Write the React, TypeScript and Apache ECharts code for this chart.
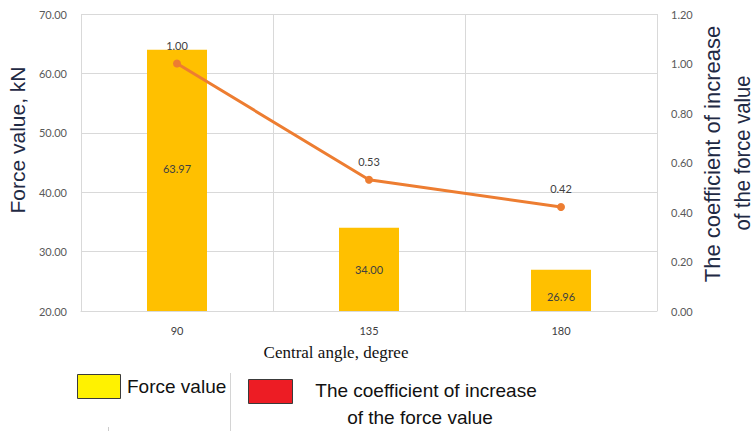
import React, { useEffect, useRef } from "react";
import * as echarts from "echarts";

const categories = ["90", "135", "180"];
const forceValues = [63.97, 34.0, 26.96];
const coefficientValues = [1.0, 0.53, 0.42];
const barLabelOffsets = [[0, -12], [0, 0], [0, 6]];

const SANS = "'Liberation Sans', Arial, sans-serif";
const TICK_FONT = "Lato, 'Open Sans', sans-serif";

export default function App() {
  const ref = useRef<HTMLDivElement>(null);
  useEffect(() => {
    if (!ref.current) return;
    const chart = echarts.init(ref.current, undefined, { renderer: "svg" });
    const gridColor = "#D9D9D9";
    const option: any = {
      animation: false,
      backgroundColor: "#ffffff",
      grid: { left: 81, right: 96, top: 14, bottom: 120, containLabel: false },
      xAxis: {
        type: "category",
        data: categories,
        axisLine: { show: true, lineStyle: { color: gridColor, width: 1 } },
        axisTick: { show: false },
        splitLine: { show: true, lineStyle: { color: gridColor, width: 1 } },
        axisLabel: { color: "#404040", fontSize: 11, fontFamily: TICK_FONT, margin: 14 },
      },
      yAxis: [
        {
          type: "value",
          min: 20,
          max: 70,
          interval: 10,
          axisLine: { show: false },
          axisTick: { show: false },
          splitLine: { show: true, lineStyle: { color: gridColor, width: 1 } },
          axisLabel: {
            color: "#595959",
            fontSize: 11,
            fontFamily: TICK_FONT,
            margin: 14,
            formatter: (v: number) => v.toFixed(2),
          },
        },
        {
          type: "value",
          min: 0,
          max: 1.2,
          interval: 0.2,
          alignTicks: false,
          axisLine: { show: false },
          axisTick: { show: false },
          splitLine: { show: false },
          axisLabel: {
            color: "#595959",
            fontSize: 11,
            fontFamily: TICK_FONT,
            margin: 14,
            formatter: (v: number) => v.toFixed(2),
          },
        },
      ],
      series: [
        {
          name: "Force value",
          type: "bar",
          yAxisIndex: 0,
          barWidth: 60,
          itemStyle: { color: "#FFC000" },
          data: forceValues.map((v, i) => ({
            value: v,
            label: { offset: barLabelOffsets[i] },
          })),
          label: {
            show: true,
            position: "inside",
            color: "#404040",
            fontSize: 11,
            fontFamily: TICK_FONT,
            formatter: (p: any) => Number(p.value).toFixed(2),
          },
        },
        {
          name: "The coefficient of increase of the force value",
          type: "line",
          yAxisIndex: 1,
          data: coefficientValues,
          symbol: "circle",
          symbolSize: 8,
          lineStyle: { color: "#ED7D31", width: 3 },
          itemStyle: { color: "#ED7D31" },
          label: {
            show: true,
            position: "top",
            distance: 9,
            color: "#404040",
            fontSize: 11,
            fontFamily: TICK_FONT,
            formatter: (p: any) => Number(p.value).toFixed(2),
          },
        },
      ],
      graphic: [
        {
          type: "text",
          x: 17,
          y: 140,
          rotation: Math.PI / 2,
          style: {
            text: "Force value, kN",
            font: `21px ${SANS}`,
            fill: "#1F2A44",
            align: "center",
            verticalAlign: "middle",
          },
        },
        {
          type: "text",
          x: 712,
          y: 154,
          rotation: Math.PI / 2,
          style: {
            text: "The coefficient of increase",
            font: `22px ${SANS}`,
            fill: "#1F2A44",
            align: "center",
            verticalAlign: "middle",
          },
        },
        {
          type: "text",
          x: 742,
          y: 153,
          rotation: Math.PI / 2,
          scaleX: 0.92,
          style: {
            text: "of the force value",
            font: `22px ${SANS}`,
            fill: "#1F2A44",
            align: "center",
            verticalAlign: "middle",
          },
        },
        {
          type: "text",
          x: 336,
          y: 352,
          style: {
            text: "Central angle, degree",
            font: "17px 'Liberation Serif', 'Times New Roman', serif",
            fill: "#111111",
            align: "center",
            verticalAlign: "middle",
          },
        },
        {
          type: "rect",
          shape: { x: 77.5, y: 374.5, width: 43, height: 24 },
          style: { fill: "#FFF200", stroke: "#3a3a3a", lineWidth: 1 },
        },
        {
          type: "text",
          x: 127,
          y: 386,
          style: {
            text: "Force value",
            font: `19px ${SANS}`,
            fill: "#111111",
            align: "left",
            verticalAlign: "middle",
          },
        },
        {
          type: "line",
          shape: { x1: 230.5, y1: 373, x2: 230.5, y2: 431 },
          style: { stroke: "#d4d4d4", lineWidth: 1 },
        },
        {
          type: "line",
          shape: { x1: 108.5, y1: 427, x2: 108.5, y2: 431 },
          style: { stroke: "#cccccc", lineWidth: 1 },
        },
        {
          type: "rect",
          shape: { x: 248.5, y: 379.5, width: 44, height: 24 },
          style: { fill: "#ED1C24", stroke: "#3a3a3a", lineWidth: 1 },
        },
        {
          type: "text",
          x: 426,
          y: 390,
          style: {
            text: "The coefficient of increase",
            font: `19px ${SANS}`,
            fill: "#111111",
            align: "center",
            verticalAlign: "middle",
          },
        },
        {
          type: "text",
          x: 420,
          y: 417,
          style: {
            text: "of the force value",
            font: `19px ${SANS}`,
            fill: "#111111",
            align: "center",
            verticalAlign: "middle",
          },
        },
      ],
    };
    chart.setOption(option);
    return () => chart.dispose();
  }, []);
  return (
    <div
      ref={ref}
      style={{ position: "fixed", left: 0, top: 0, width: 753, height: 431, background: "#fff" }}
    />
  );
}
